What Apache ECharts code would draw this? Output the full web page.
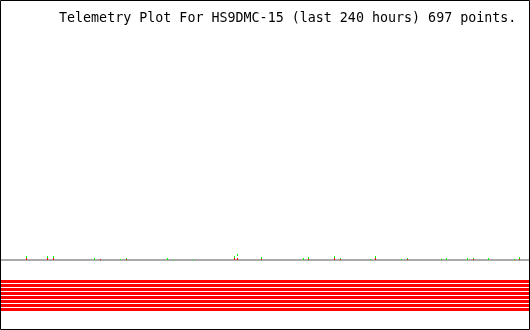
<!DOCTYPE html>
<html>
<head>
<meta charset="utf-8">
<script src="https://cdn.jsdelivr.net/npm/echarts@6/dist/echarts.min.js"></script>
<style>
html,body{margin:0;padding:0;background:#fff;}
#chart{width:530px;height:330px;}
</style>
</head>
<body>
<div id="chart"></div>
<script>
// Title
var titleText = "Telemetry Plot For HS9DMC-15 (last 240 hours) 697 points.";
var hoursSpan = 240;

// Analog telemetry spikes: time (hours) and stacked values
var spikeHours = [11.59, 21.14, 23.86, 42.50, 45.23, 54.32, 57.05, 75.68, 78.41, 87.50,
  106.14, 107.50, 118.41, 137.50, 139.77, 151.59, 154.32, 167.95, 170.23, 182.05,
  184.77, 200.23, 202.50, 212.05, 214.77, 221.59, 233.41, 235.68];
var redValues = [2, 2, 2, 0, 1, 0, 1, 0, 0, 0,
  2, 2, 1, 0, 1, 2, 1, 0, 2, 0,
  1, 0, 0, 0, 1, 0, 0, 1];
var gapValues = [0, 0, 0, 0, 0, 0, 0, 0, 0, 0,
  0, 2, 0, 0, 0, 0, 0, 0, 0, 0,
  0, 0, 0, 0, 0, 0, 0, 0];
var greenValues = [2, 2, 2, 2, 0, 1, 1, 2, 1, 1,
  2, 2, 2, 2, 2, 2, 1, 1, 2, 1,
  1, 1, 2, 2, 1, 2, 1, 2];

// Digital (bit) channels, each held constant over the whole span
var bitChannels = [0, 1, 2, 3, 4, 5, 6, 7];
var bitLevels = [0, 1, 2, 3, 4, 5, 6, 7];

var spikeData = spikeHours.map(function (h, i) {
  return [h, redValues[i], gapValues[i], greenValues[i]];
});

var chart = echarts.init(document.getElementById('chart'), null, {renderer: 'canvas'});

function renderSpike(params, api) {
  var h = api.value(0), r = api.value(1), gap = api.value(2), g = api.value(3);
  var base = api.coord([h, 0]);
  var unit = api.size([0, 1])[1];
  var x = Math.floor(base[0]);
  var y0 = Math.round(base[1]);
  var children = [];
  if (r > 0) {
    children.push({type: 'rect', shape: {x: x, y: y0 - r * unit, width: 1, height: r * unit},
      style: {fill: '#ff0000'}});
  }
  if (g > 0) {
    children.push({type: 'rect', shape: {x: x, y: y0 - (r + gap + g) * unit, width: 1, height: g * unit},
      style: {fill: '#00ff00'}});
  }
  return {type: 'group', children: children};
}

var series = [
  {type: 'custom', name: 'spikes', xAxisIndex: 0, yAxisIndex: 0, z: 5, silent: true,
   renderItem: renderSpike, data: spikeData}
];
bitChannels.forEach(function (ch, i) {
  series.push({
    type: 'line', name: 'bit' + ch, xAxisIndex: 1, yAxisIndex: 1,
    showSymbol: false, symbol: 'none', silent: true,
    lineStyle: {color: '#ff0000', width: 3, cap: 'butt'},
    data: [[0, bitLevels[i]], [hoursSpan, bitLevels[i]]]
  });
});

chart.setOption({
  animation: false,
  backgroundColor: '#ffffff',
  title: {
    text: titleText, left: 59, top: 12, padding: 0,
    textStyle: {fontFamily: 'DejaVu Sans Mono', fontSize: 13.33, fontWeight: 'normal', color: '#000'}
  },
  grid: [
    {left: 1, right: 1, top: 30, bottom: 70},
    {left: 1, right: 1, top: 280, height: 32}
  ],
  xAxis: [
    {type: 'value', gridIndex: 0, min: 0, max: hoursSpan, offset: 1,
     axisLine: {show: true, lineStyle: {color: '#aaaaaa', width: 2}},
     axisTick: {show: false}, axisLabel: {show: false}, splitLine: {show: false}},
    {type: 'value', gridIndex: 1, min: 0, max: hoursSpan, show: false,
     splitLine: {show: false}}
  ],
  yAxis: [
    {type: 'value', gridIndex: 0, min: 0, max: 230, show: false, splitLine: {show: false}},
    {type: 'value', gridIndex: 1, min: -0.375, max: 7.625, inverse: true, show: false,
     splitLine: {show: false}}
  ],
  graphic: [
    {type: 'rect', z: 100, silent: true,
     shape: {x: 0.5, y: 0.5, width: 529, height: 329},
     style: {fill: 'none', stroke: '#000', lineWidth: 1}}
  ],
  series: series
});
</script>
</body>
</html>
